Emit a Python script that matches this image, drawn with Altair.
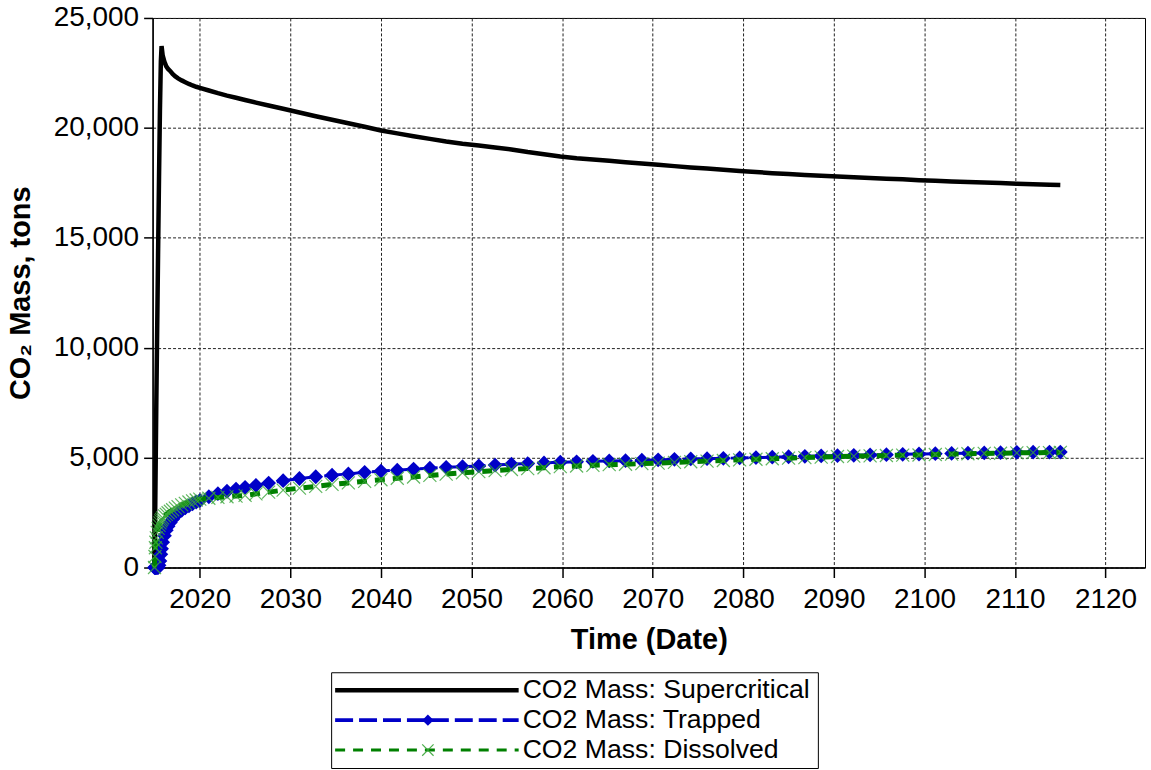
import altair as alt
import pandas as pd

# Simulation output times (decimal years)
years = [
    2015.00, 2015.05, 2015.10, 2015.15, 2015.20, 2015.30, 2015.40, 2015.50,
    2015.60, 2015.70, 2015.78, 2015.90, 2016.10, 2016.30, 2016.50, 2016.75,
    2017.00, 2017.30, 2017.60, 2018.00, 2018.40, 2018.80, 2019.20, 2019.60,
    2020.00, 2021.0, 2022.0, 2023.0, 2024.0, 2025.0, 2026.2, 2027.6, 2029.2,
    2031.0, 2032.8, 2034.6, 2036.4, 2038.2, 2040.0, 2041.8, 2043.6, 2045.4,
    2047.2, 2049.0, 2050.8, 2052.6, 2054.4, 2056.2, 2058.0, 2059.8, 2061.6,
    2063.4, 2065.2, 2067.0, 2068.8, 2070.6, 2072.4, 2074.2, 2076.0, 2077.8,
    2079.6, 2081.4, 2083.2, 2085.0, 2086.8, 2088.6, 2090.4, 2092.2, 2094.0,
    2095.8, 2097.6, 2099.4, 2101.2, 2103.0, 2104.8, 2106.6, 2108.4, 2110.2,
    2112.0, 2113.8, 2115.0,
]

# CO2 mass in tons for each phase
supercritical = [
    0, 1500, 3500, 5500, 7500, 11000, 14500, 17800,
    20800, 23000, 23720, 23300, 23000, 22800, 22680, 22580,
    22450, 22340, 22250, 22160, 22080, 22000, 21930, 21870,
    21820, 21700, 21580, 21470, 21370, 21270, 21150, 21020, 20870,
    20700, 20530, 20370, 20210, 20050, 19880, 19750, 19620, 19500,
    19380, 19280, 19200, 19110, 19020, 18900, 18800, 18700, 18620,
    18560, 18500, 18440, 18380, 18320, 18260, 18200, 18150, 18100,
    18040, 17990, 17940, 17900, 17860, 17820, 17790, 17750, 17720,
    17690, 17660, 17620, 17590, 17560, 17540, 17510, 17490, 17460,
    17440, 17410, 17400,
]
trapped = [
    0, 0, 0, 0, 0, 0, 0, 100,
    300, 600, 850, 1150, 1450, 1700, 1880, 2050,
    2200, 2350, 2480, 2600, 2720, 2810, 2900, 2980,
    3040, 3220, 3360, 3470, 3570, 3650, 3740, 3840, 3950,
    4050, 4130, 4200, 4260, 4330, 4390, 4430, 4480, 4520,
    4560, 4590, 4620, 4660, 4700, 4730, 4760, 4790, 4810,
    4830, 4850, 4860, 4880, 4900, 4920, 4940, 4950, 4970,
    4985, 5000, 5020, 5040, 5060, 5075, 5090, 5105, 5120,
    5135, 5150, 5165, 5180, 5190, 5200, 5215, 5225, 5240,
    5245, 5250, 5250,
]
dissolved = [
    0, 500, 900, 1150, 1350, 1600, 1780, 1920,
    2030, 2120, 2190, 2260, 2350, 2420, 2490, 2560,
    2630, 2700, 2770, 2850, 2920, 2980, 3030, 3070,
    3110, 3150, 3190, 3220, 3250, 3280, 3350, 3430, 3520,
    3610, 3690, 3780, 3850, 3920, 3995, 4060, 4120, 4190,
    4250, 4310, 4360, 4410, 4460, 4500, 4540, 4590, 4620,
    4650, 4680, 4700, 4725, 4750, 4780, 4810, 4840, 4870,
    4900, 4925, 4950, 4975, 5000, 5025, 5050, 5065, 5080,
    5095, 5110, 5120, 5140, 5160, 5175, 5190, 5200, 5215,
    5225, 5230, 5235,
]

series_names = ["CO2 Mass: Supercritical", "CO2 Mass: Trapped", "CO2 Mass: Dissolved"]
x_ticks = [2020, 2030, 2040, 2050, 2060, 2070, 2080, 2090, 2100, 2110, 2120]
y_ticks = [0, 5000, 10000, 15000, 20000, 25000]

BLACK = "#000000"
BLUE = "#0000c8"
GREEN = "#008000"
LIGHT_GREEN = "#3aa63a"
FONT = "Liberation Sans"
DIAMOND = "M0,-1L1,0L0,1L-1,0Z"
XMARK = "M-1,-1L1,1M-1,1L1,-1"

n = len(years)
df = pd.DataFrame({
    "year": years * 3,
    "mass": supercritical + trapped + dissolved,
    "series": [series_names[0]] * n + [series_names[1]] * n + [series_names[2]] * n,
})

x_enc = alt.X(
    "year:Q",
    scale=alt.Scale(domain=[2014.79, 2124.35], nice=False, zero=False),
    axis=alt.Axis(values=x_ticks, format="d", title="Time (Date)",
                  tickSize=10, labelPadding=8, titlePadding=12),
)
y_enc = alt.Y(
    "mass:Q",
    scale=alt.Scale(domain=[0, 25000], nice=False),
    axis=alt.Axis(values=y_ticks, format=",d", title="CO\u2082 Mass, tons",
                  tickSize=9, labelPadding=5, titlePadding=18),
)

base = alt.Chart(df).encode(x=x_enc, y=y_enc)


def one(name):
    return base.transform_filter(alt.datum.series == name)


sc_line = one(series_names[0]).mark_line(color=BLACK, strokeWidth=4.5)
tr_line = one(series_names[1]).mark_line(color=BLUE, strokeWidth=3, strokeDash=[18, 6])
tr_pts = one(series_names[1]).mark_point(
    shape=DIAMOND, filled=True, color=BLUE, size=220, opacity=1
)
di_line = one(series_names[2]).mark_line(color=GREEN, strokeWidth=5, strokeDash=[10, 8])
di_pts = one(series_names[2]).mark_point(
    shape=XMARK, filled=False, color=LIGHT_GREEN, size=170, strokeWidth=1.2, opacity=0.8
)

main = alt.layer(sc_line, tr_line, tr_pts, di_line, di_pts).properties(
    width=995, height=551, view=alt.ViewBackground(stroke="black", strokeWidth=1)
)

# Boxed legend below the plot
leg_df = pd.DataFrame({"series": series_names})
leg_y = alt.Y("series:N", sort=series_names,
              scale=alt.Scale(type="point", padding=0.6), axis=None)
leg_color = alt.Color("series:N", scale=alt.Scale(domain=series_names, range=[BLACK, BLUE, GREEN]),
                      legend=None)
leg_dash = alt.StrokeDash("series:N",
                          scale=alt.Scale(domain=series_names, range=[[1, 0], [18, 6], [10, 8]]),
                          legend=None)
leg_width = alt.StrokeWidth("series:N",
                            scale=alt.Scale(domain=series_names, range=[4.5, 3, 5]),
                            legend=None)

leg_base = alt.Chart(leg_df)
leg_rules = leg_base.mark_rule().encode(
    y=leg_y, x=alt.value(4), x2=alt.value(188),
    color=leg_color, strokeDash=leg_dash, strokeWidth=leg_width,
)
leg_diamond = leg_base.transform_filter(alt.datum.series == series_names[1]).mark_point(
    shape=DIAMOND, filled=True, color=BLUE, size=130, opacity=1
).encode(y=leg_y, x=alt.value(97))
leg_cross = leg_base.transform_filter(alt.datum.series == series_names[2]).mark_point(
    shape=XMARK, filled=False, color=LIGHT_GREEN, size=130, strokeWidth=1.2, opacity=0.9
).encode(y=leg_y, x=alt.value(97))
leg_text = leg_base.mark_text(
    align="left", baseline="middle", font=FONT, fontSize=26.7, color="black"
).encode(y=leg_y, x=alt.value(192), text="series:N")

legend = alt.layer(leg_rules, leg_diamond, leg_cross, leg_text).properties(
    width=488, height=96, view=alt.ViewBackground(stroke="black", strokeWidth=1)
)

# Empty cell that pushes the legend box towards the middle of the figure
spacer = alt.Chart(leg_df).mark_point(opacity=0).encode(
    x=alt.value(0), y=alt.value(0)
).properties(width=177, height=96, view=alt.ViewBackground(stroke="transparent"))

legend_row = alt.hconcat(spacer, legend, spacing=0)

chart = (
    alt.vconcat(main, legend_row, spacing=13)
    .properties(background="white", padding={"left": 5, "right": 5, "top": 2, "bottom": 2})
    .configure_view(stroke="transparent")
    .configure_axis(
        labelFont=FONT, labelFontSize=28, labelColor="black",
        titleFont=FONT, titleFontSize=29, titleFontWeight="bold", titleColor="black",
        domainColor="black", domainWidth=1.5,
        tickColor="black", tickWidth=1.5,
        gridColor="#222222", gridDash=[3, 2], gridWidth=1,
    )
)

chart.save("out.html", embed_options={"renderer": "svg", "actions": False})
